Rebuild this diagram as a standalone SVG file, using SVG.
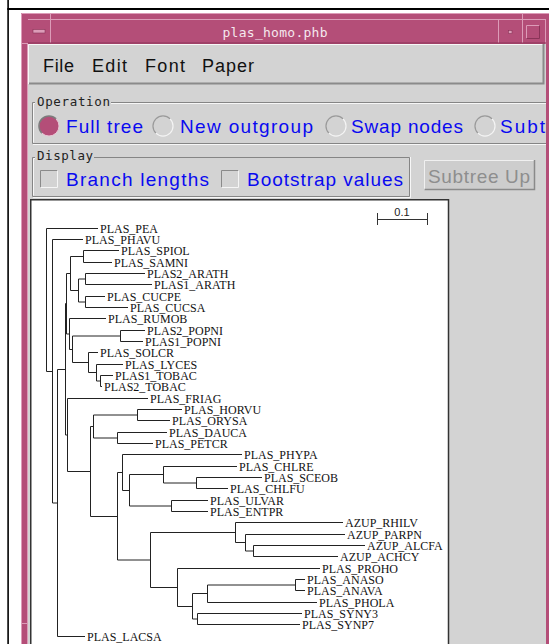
<svg xmlns="http://www.w3.org/2000/svg" width="549" height="644" viewBox="0 0 549 644">
<style>
.lbl{font-family:"Liberation Serif","Times New Roman",serif;font-size:12px;fill:#111}
.blue{font-family:"Liberation Sans",Arial,sans-serif;font-size:19px;fill:#0a0af0}
.menu{font-family:"Liberation Sans",Arial,sans-serif;font-size:18px;fill:#111}
.mono{font-family:"DejaVu Sans Mono","Liberation Mono",monospace;font-size:12.5px;fill:#222}
.tree{fill:none;stroke:#222;stroke-width:1}
.dk{stroke:#858585;stroke-width:1;fill:none}
.lt{stroke:#f7f7f7;stroke-width:1;fill:none}
.ph{stroke:#dc9cb8;stroke-width:1;fill:none}
.pd{stroke:#8a3458;stroke-width:1;fill:none}
</style>
<defs>
<clipPath id="cv"><rect x="31.5" y="201" width="416" height="443"/></clipPath>
</defs>
<rect x="0" y="0" width="549" height="644" fill="#fff"/>
<rect x="7.3" y="0" width="1.6" height="644" fill="#000"/>
<rect x="7.3" y="8" width="541.7" height="2" fill="#000"/>
<g id="window-frame">
<rect x="21" y="13" width="528" height="631" fill="#b44e78"/>
<path class="ph" d="M21.5 644 V13.5 H549"/>
<path class="ph" d="M27.5 644 V43.5 M545.5 644 V20"/>
<path class="ph" d="M50.5 13 V43 M522.5 13 V43 M498.5 20 V43 M21 43.5 H28 M21 623.5 H28 M546 623.5 H549"/>
<path class="ph" d="M28 19.5 H546"/>
<path class="pd" d="M28 43 H546"/>
<rect x="33" y="29.5" width="12" height="3.5" fill="#dc9cb8" stroke="#8a3458" stroke-width="0.6"/>
<rect x="508.5" y="30.5" width="3.5" height="3" fill="#dc9cb8" stroke="#8a3458" stroke-width="0.6"/>
<path class="ph" d="M526.5 38.5 V25.5 H539.5"/>
<path class="pd" d="M539.5 25.5 V38.5 H526.5"/>
<text x="275" y="37" text-anchor="middle" style="font-family:'DejaVu Sans Mono','Liberation Mono',monospace;font-size:13px;fill:#f4e8ee" textLength="105" lengthAdjust="spacing">plas_homo.phb</text>
</g>
<rect x="28" y="44" width="518" height="600" fill="#d3d3d3"/>
<g id="menubar">
<path class="lt" d="M28.5 84 V44.5 H543"/>
<path d="M29 83.5 H543.5 V44" stroke="#8a8a8a" stroke-width="2" fill="none"/>
<text class="menu" x="43" y="72" textLength="31" lengthAdjust="spacing">File</text>
<text class="menu" x="92" y="72" textLength="35" lengthAdjust="spacing">Edit</text>
<text class="menu" x="145" y="72" textLength="40" lengthAdjust="spacing">Font</text>
<text class="menu" x="202" y="72" textLength="52" lengthAdjust="spacing">Paper</text>
</g>
<g id="operation">
<path class="dk" d="M35 102.5 H32.5 V143.5 H546 M111 102.5 H546"/>
<path class="lt" d="M35 103.5 H33.5 V142.5 M33 144.5 H546 M111 103.5 H546"/>
<text class="mono" x="37" y="106" textLength="73" lengthAdjust="spacing">Operation</text>
<circle cx="49" cy="126" r="10" fill="#b44e78"/>
<path d="M41.9 133.1 A10 10 0 0 1 56.1 118.9" stroke="#7c7c7c" stroke-width="1.5" fill="none"/>
<path d="M56.1 118.9 A10 10 0 0 1 41.9 133.1" stroke="#e9c3d3" stroke-width="1" fill="none"/>
<text class="blue" x="66" y="133" textLength="77" lengthAdjust="spacing">Full tree</text>
<path d="M155.9 133.1 A10 10 0 0 1 170.1 118.9" stroke="#9a9a9a" stroke-width="1.2" fill="none"/>
<path d="M170.1 118.9 A10 10 0 0 1 155.9 133.1" stroke="#f4f4f4" stroke-width="1.2" fill="none"/>
<text class="blue" x="180" y="133" textLength="133" lengthAdjust="spacing">New outgroup</text>
<path d="M328.9 133.1 A10 10 0 0 1 343.1 118.9" stroke="#9a9a9a" stroke-width="1.2" fill="none"/>
<path d="M343.1 118.9 A10 10 0 0 1 328.9 133.1" stroke="#f4f4f4" stroke-width="1.2" fill="none"/>
<text class="blue" x="351" y="133" textLength="112" lengthAdjust="spacing">Swap nodes</text>
<path d="M477.9 133.1 A10 10 0 0 1 492.1 118.9" stroke="#9a9a9a" stroke-width="1.2" fill="none"/>
<path d="M492.1 118.9 A10 10 0 0 1 477.9 133.1" stroke="#f4f4f4" stroke-width="1.2" fill="none"/>
<text class="blue" x="500" y="133" textLength="45" lengthAdjust="spacing">Subt</text>
</g>
<rect x="546" y="44" width="3" height="600" fill="#b44e78"/>
<g id="display">
<path class="dk" d="M35 157.5 H32.5 V196.5 H409.5 V157.5 H94"/>
<path class="lt" d="M35 158.5 H33.5 V195.5 M33 197.5 H410.5 V157"/>
<text class="mono" x="37" y="160" textLength="56" lengthAdjust="spacing">Display</text>
<path d="M40.5 187.5 V170.5 H57.5" stroke="#8a8a8a" stroke-width="1" fill="none"/>
<path d="M57.5 170.5 V187.5 H40.5" stroke="#f5f5f5" stroke-width="1" fill="none"/>
<text class="blue" x="66" y="186" textLength="143" lengthAdjust="spacing">Branch lengths</text>
<path d="M221.5 187.5 V170.5 H238.5" stroke="#8a8a8a" stroke-width="1" fill="none"/>
<path d="M238.5 170.5 V187.5 H221.5" stroke="#f5f5f5" stroke-width="1" fill="none"/>
<text class="blue" x="247" y="186" textLength="156" lengthAdjust="spacing">Bootstrap values</text>
</g>
<g id="subtree-up">
<rect x="424" y="160" width="111" height="30" fill="#cdcdcd"/>
<path d="M424.5 190 V160.5 H535" stroke="#f0f0f0" stroke-width="1" fill="none"/>
<path d="M424.5 189.5 H534.5 V160" stroke="#8a8a8a" stroke-width="1.5" fill="none"/>
<text x="428" y="183" style="font-family:'Liberation Sans',Arial,sans-serif;font-size:19px;fill:#8e8e8e" textLength="102" lengthAdjust="spacing">Subtree Up</text>
</g>
<g id="canvas">
<rect x="30.75" y="199.75" width="417.75" height="460" fill="#fff" stroke="#333" stroke-width="1.5"/>
<path d="M377.5 219.5 H427.5 M377.5 213 V225 M427.5 213 V225" stroke="#333" stroke-width="1" fill="none"/>
<text x="402" y="216" text-anchor="middle" style="font-family:'Liberation Sans',Arial,sans-serif;font-size:11px;fill:#222">0.1</text>
</g>
<g id="connectors" clip-path="url(#cv)">
<path class="tree" d="M46.5 228.5 V371.5 M46.5 228.5 H98 M46.5 371.5 H52.5
M52.5 239.5 V503 M52.5 239.5 H83 M52.5 503 H57.5
M57.5 369.5 V636.5 M57.5 636.5 H85 M57.5 369.5 H65.5
M65.5 303.5 V435 M65.5 303.5 H66.5 M65.5 435 H67.5
M66.5 273.5 V334 M66.5 273.5 H70.5 M66.5 334 H69.5
M70.5 256.5 V290.5 M70.5 256.5 H83.5 M70.5 290.5 H78.5
M83.5 250.5 V262.5 M83.5 250.5 H119 M83.5 262.5 H112
M78.5 279 V302 M78.5 279 H85.5 M78.5 302 H85.5
M85.5 273.5 V284.5 M85.5 273.5 H145 M85.5 284.5 H152
M85.5 296.5 V307.5 M85.5 296.5 H105 M85.5 307.5 H128
M69.5 318.5 V349.5 M69.5 318.5 H106 M69.5 349.5 H72.5
M72.5 336 V362.5 M72.5 336 H120.5 M72.5 362.5 H88.5
M120.5 330.5 V341.5 M120.5 330.5 H145 M120.5 341.5 H143
M88.5 352.5 V372.5 M88.5 352.5 H98 M88.5 372.5 H96.5
M96.5 364.5 V381 M96.5 364.5 H123 M96.5 381 H100.5
M100.5 375.5 V386.5 M100.5 375.5 H113 M100.5 386.5 H102
M67.5 398.5 V471.5 M67.5 398.5 H148 M67.5 471.5 H90.5
M90.5 426.5 V516.5 M90.5 426.5 H93.5 M90.5 516.5 H117.5
M93.5 415 V438 M93.5 415 H137.5 M93.5 438 H117.5
M137.5 409.5 V420.5 M137.5 409.5 H182 M137.5 420.5 H170
M117.5 432.5 V443.5 M117.5 432.5 H167 M117.5 443.5 H153
M117.5 472.5 V560 M117.5 472.5 H122.5 M117.5 560 H150.5
M122.5 454.5 V490.5 M122.5 454.5 H242 M122.5 490.5 H129.5
M129.5 474.5 V506 M129.5 474.5 H163.5 M129.5 506 H171.5
M163.5 466.5 V483 M163.5 466.5 H237 M163.5 483 H196.5
M196.5 477.5 V488.5 M196.5 477.5 H262 M196.5 488.5 H228
M171.5 500.5 V511.5 M171.5 500.5 H208 M171.5 511.5 H208
M150.5 532.5 V587.5 M150.5 532.5 H235.5 M150.5 587.5 H177.5
M235.5 522.5 V542.5 M235.5 522.5 H343 M235.5 542.5 H245.5
M245.5 534.5 V551 M245.5 534.5 H345 M245.5 551 H253.5
M253.5 545.5 V556.5 M253.5 545.5 H365 M253.5 556.5 H338
M177.5 568.5 V606.5 M177.5 568.5 H320 M177.5 606.5 H192.5
M192.5 593.5 V619 M192.5 593.5 H207.5 M192.5 619 H197.5
M207.5 585 V602.5 M207.5 585 H295.5 M207.5 602.5 H317
M295.5 579.5 V590.5 M295.5 579.5 H305 M295.5 590.5 H305
M197.5 613.5 V624.5 M197.5 613.5 H302 M197.5 624.5 H300"/>
</g>
<g id="leaves" class="lbl">
<text id="n-pea" x="100" y="233">PLAS_PEA</text>
<text id="n-phavu" x="85" y="244">PLAS_PHAVU</text>
<text id="n-spiol" x="121" y="255">PLAS_SPIOL</text>
<text id="n-samni" x="114" y="267">PLAS_SAMNI</text>
<text id="n-arath2" x="147" y="278">PLAS2_ARATH</text>
<text id="n-arath1" x="154" y="289">PLAS1_ARATH</text>
<text id="n-cucpe" x="107" y="301">PLAS_CUCPE</text>
<text id="n-cucsa" x="130" y="312">PLAS_CUCSA</text>
<text id="n-rumob" x="108" y="323">PLAS_RUMOB</text>
<text id="n-popni2" x="147" y="335">PLAS2_POPNI</text>
<text id="n-popni1" x="145" y="346">PLAS1_POPNI</text>
<text id="n-solcr" x="100" y="357">PLAS_SOLCR</text>
<text id="n-lyces" x="125" y="369">PLAS_LYCES</text>
<text id="n-tobac1" x="115" y="380">PLAS1_TOBAC</text>
<text id="n-tobac2" x="104" y="391">PLAS2_TOBAC</text>
<text id="n-friag" x="150" y="403">PLAS_FRIAG</text>
<text id="n-horvu" x="184" y="414">PLAS_HORVU</text>
<text id="n-orysa" x="172" y="425">PLAS_ORYSA</text>
<text id="n-dauca" x="169" y="437">PLAS_DAUCA</text>
<text id="n-petcr" x="155" y="448">PLAS_PETCR</text>
<text id="n-phypa" x="244" y="459">PLAS_PHYPA</text>
<text id="n-chlre" x="239" y="471">PLAS_CHLRE</text>
<text id="n-sceob" x="264" y="482">PLAS_SCEOB</text>
<text id="n-chlfu" x="230" y="493">PLAS_CHLFU</text>
<text id="n-ulvar" x="210" y="505">PLAS_ULVAR</text>
<text id="n-entpr" x="210" y="516">PLAS_ENTPR</text>
<text id="n-rhilv" x="345" y="527">AZUP_RHILV</text>
<text id="n-parpn" x="347" y="539">AZUP_PARPN</text>
<text id="n-alcfa" x="367" y="550">AZUP_ALCFA</text>
<text id="n-achcy" x="340" y="561">AZUP_ACHCY</text>
<text id="n-proho" x="322" y="573">PLAS_PROHO</text>
<text id="n-anaso" x="307" y="584">PLAS_ANASO</text>
<text id="n-anava" x="307" y="595">PLAS_ANAVA</text>
<text id="n-phola" x="319" y="607">PLAS_PHOLA</text>
<text id="n-syny3" x="304" y="618">PLAS_SYNY3</text>
<text id="n-synp7" x="302" y="629">PLAS_SYNP7</text>
<text id="n-lacsa" x="87" y="641">PLAS_LACSA</text>
</g>
</svg>
